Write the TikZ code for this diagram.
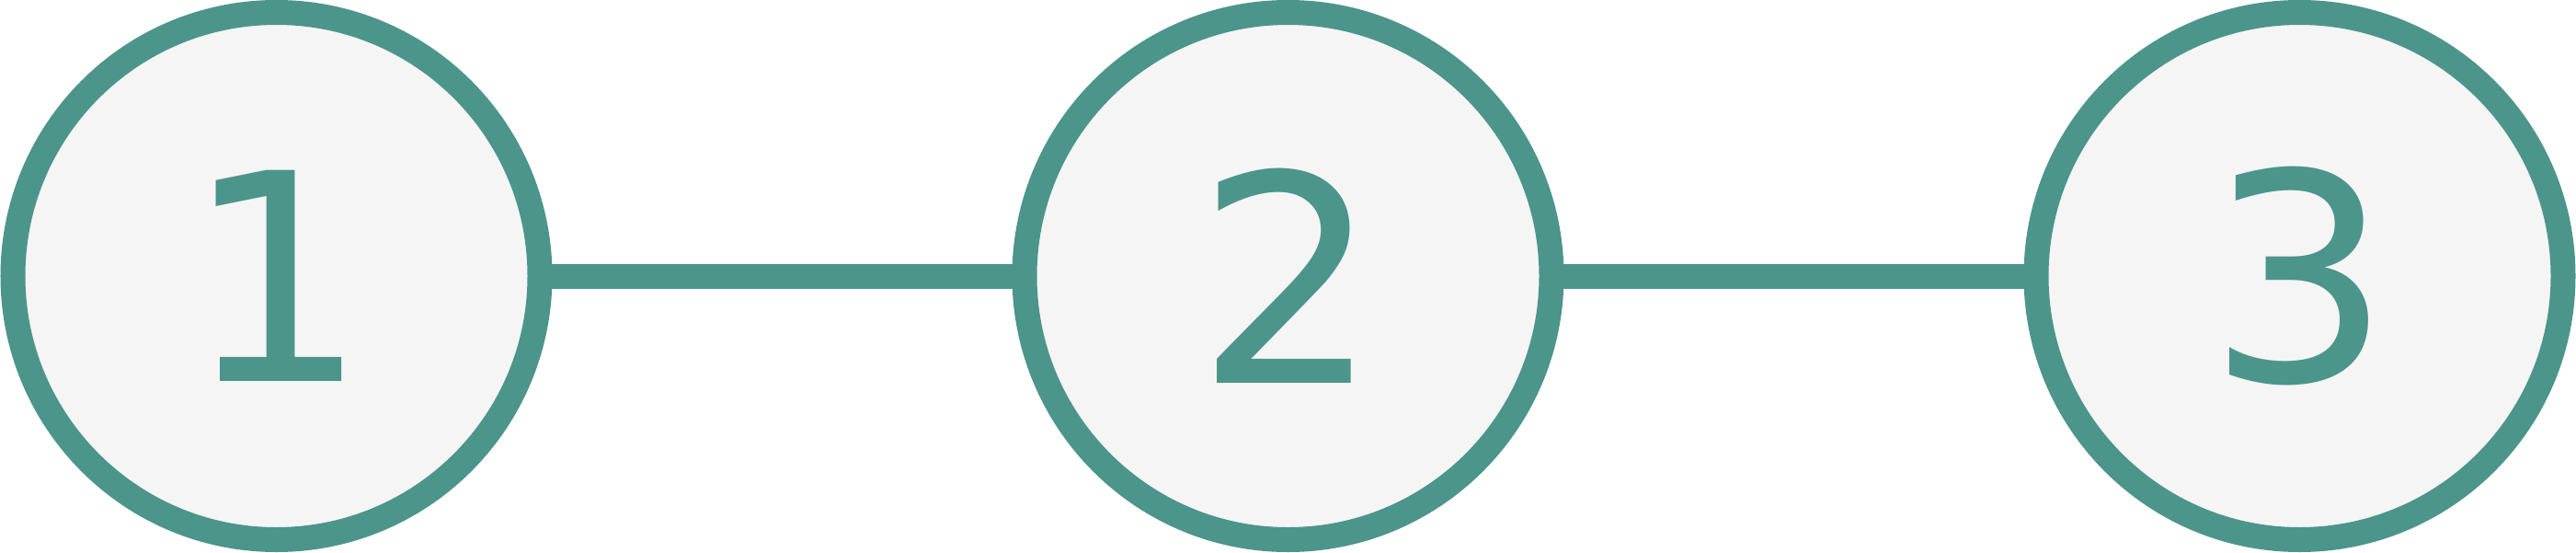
\documentclass[tikz,border=0pt]{standalone}
\usepackage{fontspec}
\newfontfamily\stepfont{DejaVu Sans}
\usepackage{tikz}
\usetikzlibrary{matrix, positioning}
\definecolor{stepteal}{HTML}{4C958B}
\definecolor{stepfill}{HTML}{F5F5F5}

\begin{document}
\begin{tikzpicture}
\useasboundingbox (0,0) rectangle (28.01,6);
\matrix [matrix of nodes, inner sep=0pt,
         column sep={11cm,between origins},
         nodes={circle, draw=stepteal, fill=stepfill, line width=0.27cm,
                minimum size=5.73cm, inner sep=0pt, outer sep=0pt, anchor=center,
                text=stepteal, font=\stepfont\fontsize{89.5}{90}\selectfont}]
      at (14.005,3)
%
{
|(s1)| 1 & |(s2)| 2 & |(s3)| 3 \\
};

\draw [stepteal, line width=0.27cm] (s1) -- (s2);
\draw [stepteal, line width=0.27cm] (s2) -- (s3);
%
\end{tikzpicture}
\end{document}
